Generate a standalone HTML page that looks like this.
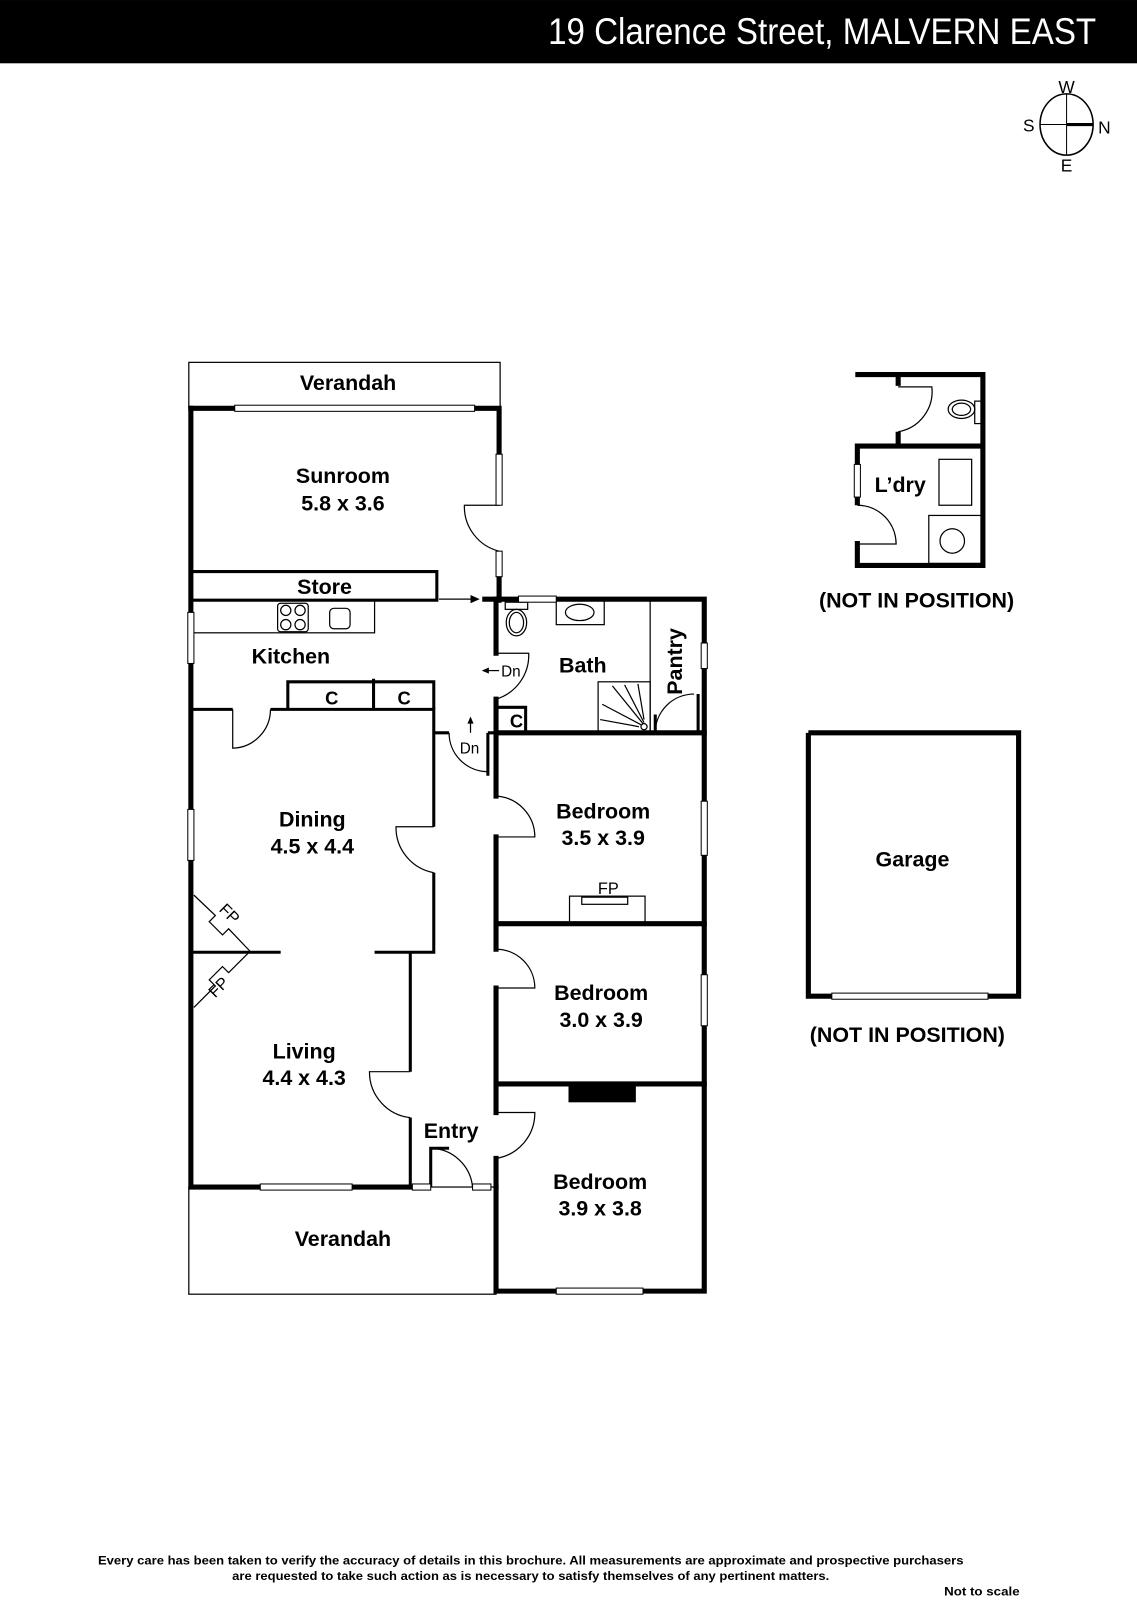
<!DOCTYPE html>
<html><head><meta charset="utf-8"><style>html,body{margin:0;padding:0;background:#fff}svg{display:block}</style></head>
<body>
<svg width="1137" height="1600" viewBox="0 0 1114 1567.6" xmlns="http://www.w3.org/2000/svg" font-family="Liberation Sans, sans-serif">
<rect x="0" y="0" width="1114" height="62" fill="#000"/>
<text x="1074" y="43" fill="#fff" font-size="36" text-anchor="end" textLength="537" lengthAdjust="spacingAndGlyphs">19 Clarence Street, MALVERN EAST</text>
<!-- compass -->
<g stroke="#000" fill="none">
<ellipse cx="1045" cy="122" rx="26" ry="30" stroke-width="1.5"/>
<line x1="1045" y1="92" x2="1045" y2="152" stroke-width="1"/>
<line x1="1019" y1="122" x2="1045" y2="122" stroke-width="1"/>
<line x1="1045" y1="122" x2="1071" y2="122" stroke-width="3"/>
</g>
<g font-size="17" text-anchor="middle">
<text x="1045" y="91">W</text><text x="1045" y="168">E</text><text x="1008" y="129">S</text><text x="1082" y="131">N</text>
</g>

<!-- thin outlines -->
<g stroke="#000" fill="none" stroke-width="1.2">
<rect x="185" y="355" width="305" height="45"/>
<rect x="185" y="1163" width="301" height="105"/>
<rect x="187" y="588" width="180" height="32"/>
<rect x="272" y="591" width="30" height="28" rx="3"/>
<circle cx="280" cy="598" r="5"/><circle cx="294" cy="598" r="5"/><circle cx="280" cy="612" r="5"/><circle cx="294" cy="612" r="5"/>
<rect x="323" y="596" width="20" height="20" rx="4"/>
<rect x="545" y="588" width="47" height="24"/>
<ellipse cx="568" cy="600" rx="14" ry="8"/>
<rect x="495" y="590" width="22" height="7"/>
<ellipse cx="506" cy="610" rx="10" ry="13"/>
<ellipse cx="506" cy="610" rx="7" ry="10"/>
<rect x="586" y="668" width="51" height="50"/>
<line x1="637" y1="588" x2="637" y2="718"/>
<rect x="558" y="878" width="74" height="27"/>
<rect x="570" y="879" width="45" height="7"/>
<line x1="600" y1="672" x2="630" y2="709"/><line x1="612" y1="671" x2="631" y2="708"/><line x1="625" y1="670" x2="631" y2="705"/><line x1="590" y1="690" x2="628" y2="710"/><line x1="588" y1="705" x2="626" y2="712"/>
<circle cx="631" cy="712" r="3"/>
<!-- door arcs -->
<path d="M489 495 L455 495 A45 45 0 0 0 489 540"/>
<path d="M486 640 L518 640 A45 45 0 0 1 486 685"/>
<path d="M228 695 L228 733 A38 38 0 0 0 265 695"/>
<path d="M440 718 A38 38 0 0 0 478 756"/>
<path d="M425 810 L388 810 A45 45 0 0 0 425 855"/>
<path d="M486 780 A40 40 0 0 1 524 820 L486 820"/>
<path d="M486 930 A38 38 0 0 1 524 968 L486 968"/>
<path d="M402 1050 L362 1050 A45 45 0 0 0 402 1095"/>
<path d="M486 1090 L524 1090 A45 45 0 0 1 486 1135"/>
<path d="M422 1125 A42 42 0 0 1 463 1163"/>
<path d="M680 680 A38 38 0 0 0 642 718"/>
<!-- FP angled -->
<path d="M190 877 L211 897 L205 903 L218 916 L224 910 L245 932"/>
<path d="M245 932 L224 953 L218 947 L205 960 L211 966 L190 987"/>
<!-- arrows -->
<line x1="430" y1="587" x2="463" y2="587"/>
<line x1="489" y1="657" x2="477" y2="657"/>
<line x1="461" y1="718" x2="461" y2="705"/>
</g>
<path d="M470 587 L461 583 L461 591Z"/>
<path d="M472 657 L479 654 L479 660Z"/>
<path d="M461 702 L458 709 L464 709Z"/>

<!-- thick walls -->
<g stroke="#000" fill="none" stroke-width="5" stroke-linecap="square">
<path d="M187 400 L230 400 M465 400 L489 400 L489 445 M489 565 L489 588"/>
<path d="M187 400 L187 600 M187 650 L187 793 M187 843 L187 1163 L255 1163 M345 1163 L402 1163"/>
<path d="M475 587 L508 587 M545 587 L690 587 L690 630 M690 655 L690 785 M690 838 L690 955 M690 1005 L690 1265 L630 1265 M545 1265 L486 1265 L486 1163"/>
<path d="M486 587 L486 640 M486 685 L486 718 L690 718 M486 718 L486 780 M486 820 L486 930 M486 968 L486 1090 M486 1135 L486 1163"/>
<path d="M486 905 L690 905 M486 1062 L690 1062"/>
</g>
<g stroke="#000" fill="none" stroke-width="3">
<path d="M187 560 L428 560 L428 588 L187 588"/>
<path d="M187 695 L228 695 M265 695 L425 695 L425 810 M425 855 L425 933 L367 933 M275 933 L187 933"/>
<path d="M282 695 L282 668 L425 668 L425 695 M366 665 L366 695"/>
<path d="M425 718 L440 718 M478 718 L478 760 M486 718 L478 718"/>
<path d="M402 933 L402 1050 M402 1095 L402 1163 M422 1163 L422 1125 L440 1125"/>
<path d="M486 693 L515 693 L515 718"/>
<path d="M642 718 L642 700 M684 680 L684 718"/>
</g>
<rect x="557" y="1062" width="66" height="18"/>
<!-- windows -->
<g fill="#fff" stroke="#000" stroke-width="1">
<rect x="230" y="397" width="235" height="6"/>
<rect x="486" y="445" width="6" height="50"/><rect x="486" y="540" width="6" height="25"/>
<rect x="184" y="600" width="6" height="50"/><rect x="184" y="793" width="6" height="50"/>
<rect x="508" y="584" width="37" height="6"/>
<rect x="687" y="630" width="6" height="25"/><rect x="687" y="785" width="6" height="53"/><rect x="687" y="955" width="6" height="50"/>
<rect x="255" y="1160" width="90" height="6"/><rect x="545" y="1262" width="85" height="6"/>
<rect x="404" y="1160" width="18" height="6"/><rect x="463" y="1160" width="18" height="6"/>
</g>

<!-- laundry & garage -->
<g stroke="#000" fill="none" stroke-width="5">
<path d="M838 367 L963 367 L963 554 L840 554 L840 530 M840 495 L840 487 M840 455 L840 437 L880 437 L880 423 M880 378 L880 367 M880 437 L963 437"/>
<path d="M792 718 L998 718 L998 976 L968 976 M815 976 L792 976 L792 718"/>
</g>
<g stroke="#000" fill="none" stroke-width="1.2">
<path d="M880 379 L913 379 A40 40 0 0 1 880 423"/>
<path d="M840 495 A38 38 0 0 1 878 533 L840 533"/>
<rect x="920" y="450" width="32" height="45"/>
<rect x="910" y="505" width="53" height="47"/>
<circle cx="933" cy="530" r="12"/>
<rect x="955" y="393" width="8" height="22"/>
<ellipse cx="942" cy="401" rx="13" ry="9"/><ellipse cx="942" cy="401" rx="9" ry="6"/>
</g>
<g fill="#fff" stroke="#000" stroke-width="1"><rect x="837" y="455" width="6" height="32"/><rect x="815" y="973" width="153" height="6"/></g>

<!-- labels -->
<g font-size="21" font-weight="bold" text-anchor="middle">
<text x="341" y="382">Verandah</text>
<text x="336" y="473">Sunroom</text><text x="336" y="500">5.8 x 3.6</text>
<text x="318" y="582">Store</text>
<text x="285" y="650">Kitchen</text>
<text x="571" y="659">Bath</text>
<text x="306" y="810">Dining</text><text x="306" y="836">4.5 x 4.4</text>
<text x="591" y="802">Bedroom</text><text x="591" y="828">3.5 x 3.9</text>
<text x="589" y="980">Bedroom</text><text x="589" y="1006">3.0 x 3.9</text>
<text x="298" y="1037">Living</text><text x="298" y="1063">4.4 x 4.3</text>
<text x="442" y="1115">Entry</text>
<text x="588" y="1165">Bedroom</text><text x="588" y="1191">3.9 x 3.8</text>
<text x="336" y="1221">Verandah</text>
<text x="882" y="482">L’dry</text>
<text x="894" y="849">Garage</text>
<text x="898" y="595">(NOT IN POSITION)</text>
<text x="889" y="1021">(NOT IN POSITION)</text>
<text x="660" y="640" transform="rotate(-90 668 640)">Pantry</text>
</g>
<g font-size="18" font-weight="bold" text-anchor="middle">
<text x="325" y="690">C</text><text x="396" y="690">C</text><text x="506" y="713">C</text>
</g>
<g font-size="16" text-anchor="middle">
<text x="596" y="876">FP</text>
<text x="491" y="663" font-size="15" text-anchor="start">Dn</text>
<text x="460" y="738" font-size="15">Dn</text>
<text x="221" y="899" transform="rotate(45 221 899)">FP</text>
<text x="218" y="971" transform="rotate(-45 218 971)">FP</text>
</g>
<g font-size="12" font-weight="bold" text-anchor="middle">
<text x="520" y="1533" textLength="848" lengthAdjust="spacingAndGlyphs">Every care has been taken to verify the accuracy of details in this brochure.  All measurements are approximate and prospective purchasers</text>
<text x="520" y="1548" textLength="585" lengthAdjust="spacingAndGlyphs">are requested to take such action as is necessary to satisfy themselves of any pertinent matters.</text>
<text x="962" y="1563" textLength="74" lengthAdjust="spacingAndGlyphs">Not to scale</text>
</g>
</svg>
</body></html>
